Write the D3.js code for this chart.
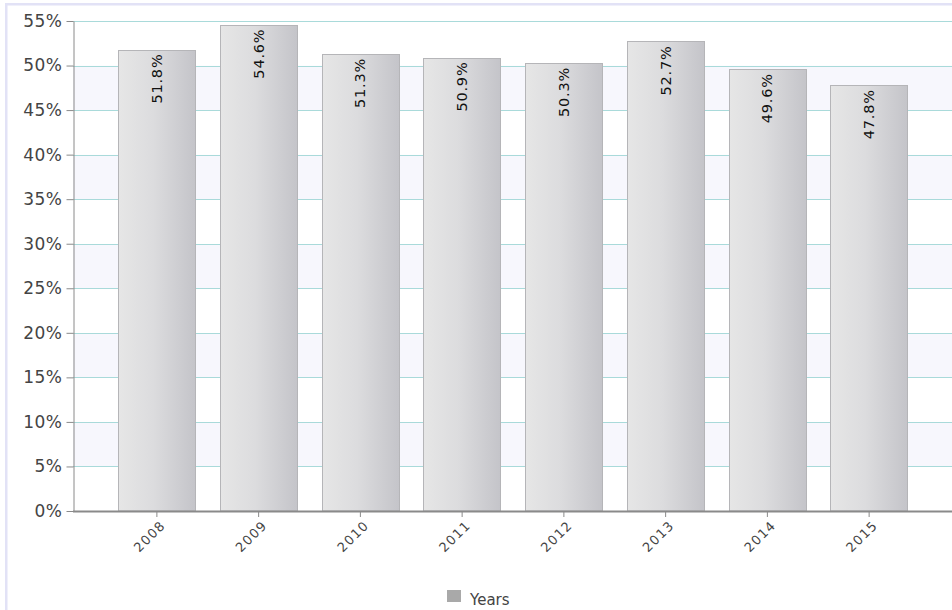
<!DOCTYPE html>
<html><head><meta charset="utf-8">
<script src="https://cdn.jsdelivr.net/npm/d3@7/dist/d3.min.js"></script>
<style>html,body{margin:0;padding:0;background:#fff;}svg{display:block;}</style>
</head><body>
<svg id="c" width="952" height="610"></svg>
<script>
const years = ["2008","2009","2010","2011","2012","2013","2014","2015"];
const values = [51.8, 54.6, 51.3, 50.9, 50.3, 52.7, 49.6, 47.8];
const labels = ["51.8%","54.6%","51.3%","50.9%","50.3%","52.7%","49.6%","47.8%"];
const yTicks = [0,5,10,15,20,25,30,35,40,45,50,55];
const legendLabel = "Years";

const svg = d3.select("#c");
const W = 952, H = 610;
const pL = 73, pR = 952, pT = 21, pB = 511;

// frame
svg.append("rect").attr("x",5).attr("y",3).attr("width",W-5).attr("height",2.5).attr("fill","#e2e2f6");
svg.append("rect").attr("x",5).attr("y",3).attr("width",2.5).attr("height",H-3).attr("fill","#e2e2f6");

const y = d3.scaleLinear().domain([0,55]).range([pB, pT]);
const x = d3.scaleBand().domain(years).range([106, 920]).paddingInner(0.24).paddingOuter(0.12);

// alternating bands
const bands = yTicks.slice(0,-1);
svg.append("g").selectAll("rect").data(bands).join("rect")
  .attr("x", pL).attr("width", pR-pL)
  .attr("y", d => y(d+5)).attr("height", d => y(d)-y(d+5))
  .attr("fill", (d,i) => i%2 ? "#f7f7fd" : "#ffffff");

// grid
svg.append("g").selectAll("line").data(yTicks.slice(1)).join("line")
  .attr("x1", pL).attr("x2", pR)
  .attr("y1", d => Math.round(y(d))+0.5).attr("y2", d => Math.round(y(d))+0.5)
  .attr("stroke", "#a9dada").attr("stroke-width", 1);

// gradient
const defs = svg.append("defs");
const g = defs.append("linearGradient").attr("id","barg").attr("x1","0").attr("x2","1").attr("y1","0").attr("y2","0");
g.append("stop").attr("offset","0%").attr("stop-color","#e6e6e6");
g.append("stop").attr("offset","45%").attr("stop-color","#dcdcde");
g.append("stop").attr("offset","100%").attr("stop-color","#c4c4c9");

// bars
svg.append("g").selectAll("rect").data(values).join("rect")
  .attr("x", (d,i) => Math.round(x(years[i]))+0.5)
  .attr("width", Math.round(x.bandwidth()))
  .attr("y", d => Math.round(y(d))+0.5)
  .attr("height", d => pB - Math.round(y(d)) - 0.5)
  .attr("fill", "url(#barg)")
  .attr("stroke", "#b5b5b8").attr("stroke-width", 1);

// bar labels
svg.append("g").selectAll("text").data(values).join("text")
  .attr("transform", (d,i) => `translate(${x(years[i]) + x.bandwidth()/2},${y(d)+4}) rotate(-90)`)
  .attr("text-anchor","end").attr("dy","0.35em")
  .style("font-family","'DejaVu Sans', Verdana, sans-serif").style("font-size","14.5px")
  .style("letter-spacing","0.8px")
  .attr("fill","#111")
  .text((d,i) => labels[i]);

// y axis
const ya = svg.append("g").attr("transform",`translate(${pL+0.5},0)`)
  .call(d3.axisLeft(y).tickValues(yTicks).tickFormat(d => d + "%").tickSize(7).tickSizeOuter(0));
ya.select(".domain").attr("stroke","#8a8a8a");
ya.selectAll(".tick line").attr("stroke","#8a8a8a");
ya.selectAll(".tick text").attr("x",-11).attr("fill","#444")
  .style("font-family","'DejaVu Sans', Verdana, sans-serif").style("font-size","17px").style("letter-spacing","0.5px");

// x axis
const xa = svg.append("g").attr("transform",`translate(0,${pB})`)
  .call(d3.axisBottom(x).tickSize(6).tickSizeOuter(0));
xa.select(".domain").attr("d", `M${pL},0.5H${pR}`).attr("stroke","#8a8a8a").attr("stroke-width",2);
xa.selectAll(".tick line").attr("stroke","#8a8a8a");
xa.selectAll(".tick text")
  .attr("transform","translate(6,12) rotate(-45)")
  .attr("text-anchor","end").attr("x",0).attr("y",0).attr("dy","0.35em")
  .attr("fill","#444")
  .style("font-family","'DejaVu Sans', Verdana, sans-serif").style("font-size","13px").style("letter-spacing","1.2px");

// legend
svg.append("rect").attr("x",447).attr("y",590).attr("width",14).attr("height",12).attr("fill","#a9a9a9");
svg.append("text").attr("x",470).attr("y",605).attr("fill","#444")
  .style("font-family","'DejaVu Sans', Verdana, sans-serif").style("font-size","15px")
  .text(legendLabel);
</script>
</body></html>
